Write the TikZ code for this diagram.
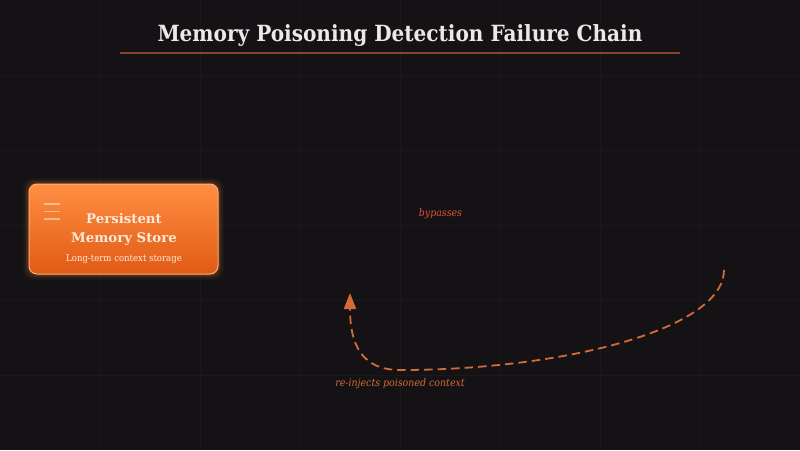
\documentclass[tikz,border=0pt]{standalone}
\usepackage{fontspec}
\setmainfont{DejaVu Serif}
\newfontfamily\condserif{DejaVu Serif Condensed}
\usetikzlibrary{arrows.meta}
\definecolor{bgc}{HTML}{141215}
\definecolor{gridc}{HTML}{1A181B}
\definecolor{titlec}{HTML}{ECE8E8}
\definecolor{rulec}{HTML}{8A4528}
\definecolor{boxtop}{HTML}{FF8E42}
\definecolor{boxbot}{HTML}{E05A16}
\definecolor{boxedge}{HTML}{FFAE74}
\definecolor{boxtext}{HTML}{FDEBD9}
\definecolor{flowc}{HTML}{D46B36}
\definecolor{bypassc}{HTML}{E2503E}
\tikzset{
  storebox/.style={rectangle, rounded corners=8pt, minimum width=189pt, minimum height=90pt,
    top color=boxtop, bottom color=boxbot, draw=boxedge, line width=1pt, inner sep=0pt},
  glow/.style={rectangle, rounded corners=10pt, fill=boxtop, draw=none, inner sep=0pt},
  flow/.style={draw=flowc, line width=1.8pt, dash pattern=on 8.5pt off 5pt,
    -{Triangle[length=16pt,width=12pt]}},
  edgelabel/.style={font=\condserif\itshape\fontsize{10.5}{12}\selectfont, inner sep=0pt},
}
\begin{document}
\begin{tikzpicture}[x=1pt,y=-1pt]
\fill[bgc] (0,0) rectangle (800,450);
\useasboundingbox (0,0) rectangle (800,450);
% grid
\foreach \gx in {100,200,...,700} \draw[gridc, line width=1pt] (\gx,0) -- (\gx,450);
\foreach \gy in {75,150,...,375} \draw[gridc, line width=1pt] (0,\gy) -- (800,\gy);
% title
\node[font=\condserif\bfseries\fontsize{22.3}{26}\selectfont, text=titlec, inner sep=0pt] (title) at (400,35.5) {Memory Poisoning Detection Failure Chain};
\coordinate (ruleL) at (120,53);
\coordinate (ruleR) at (680,53);
\draw[rulec, line width=2pt] (ruleL) -- (ruleR);
% store box glow
\foreach \gw/\op in {12/0.04,9/0.06,6/0.09,3/0.14}
  \node[glow, minimum width=189pt+\gw pt, minimum height=90pt+\gw pt, fill opacity=\op] at (123.5,229) {};
\node[storebox] (store) at (123.5,229) {};
% hamburger icon
\foreach \hy [count=\hi] in {204,211.5,219}
  \draw[boxtext, opacity=0.55, line width=1.1pt] (44,\hy) coordinate (hl\hi) -- (60,\hy) coordinate (hr\hi);
\node[font=\bfseries\fontsize{13.3}{19}\selectfont, text=boxtext, align=center, inner sep=0pt] (storetitle) at (124,229) {Persistent\\Memory Store};
\node[font=\condserif\fontsize{9.5}{11}\selectfont, text=boxtext, inner sep=0pt] (storesub) at (124,259.5) {Long-term context storage};
% labels
\node[edgelabel, text=bypassc] (bypass) at (440.5,214) {bypasses};
% dashed return arrow
\coordinate (src) at (724,270);
\coordinate (dst) at (350,293);
\draw[flow] (src) .. controls (724,330) and (560,370) .. (400,370) .. controls (362,370) and (350,345) .. (dst);
\node[edgelabel, text=flowc] (reinject) at (400,384) {re-injects poisoned context};
\end{tikzpicture}
\end{document}
